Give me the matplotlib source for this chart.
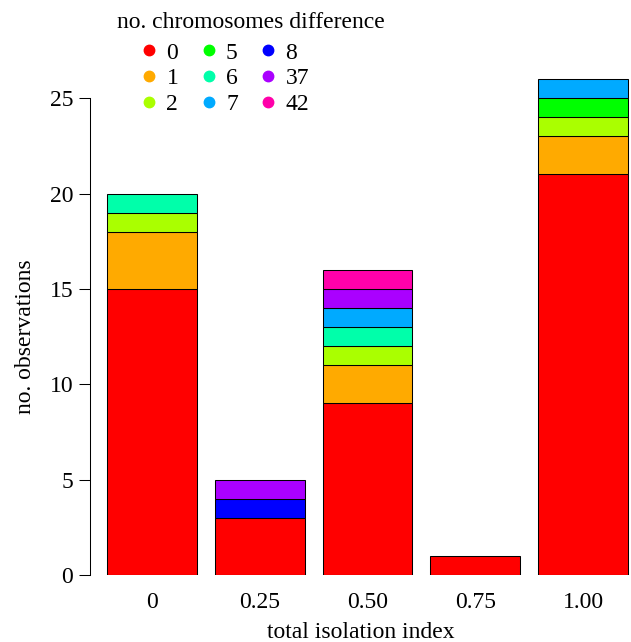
import numpy as np
import matplotlib.pyplot as plt
from matplotlib.lines import Line2D

plt.rcParams['font.family'] = ['Liberation Serif', 'DejaVu Serif']

# isolation index bins and stacked counts per chromosome difference
bins = ['0', '0.25', '0.50', '0.75', '1.00']
diffs = ['0', '1', '2', '5', '6', '7', '8', '37', '42']
counts_0 = [15, 3, 9, 1, 21]
counts_1 = [3, 0, 2, 0, 2]
counts_2 = [1, 0, 1, 0, 1]
counts_5 = [0, 0, 0, 0, 1]
counts_6 = [1, 0, 1, 0, 0]
counts_7 = [0, 0, 1, 0, 1]
counts_8 = [0, 1, 0, 0, 0]
counts_37 = [0, 1, 1, 0, 0]
counts_42 = [0, 0, 1, 0, 0]
colors = ['#FF0000', '#FFAA00', '#AAFF00', '#00FF00', '#00FFAA',
          '#00AAFF', '#0000FF', '#AA00FF', '#FF00AA']

counts = [counts_0, counts_1, counts_2, counts_5, counts_6,
          counts_7, counts_8, counts_37, counts_42]

fs = 17

fig = plt.figure(figsize=(6.31, 6.42), dpi=100)
ax = fig.add_axes([90 / 631, 67 / 642, 541 / 631, 515 / 642])

x = np.arange(len(bins))
width = 1 / 1.2
bottom = np.zeros(len(bins))
for vals, col in zip(counts, colors):
    vals = np.array(vals, dtype=float)
    keep = vals > 0
    ax.bar(x[keep], vals[keep], width=width, bottom=bottom[keep], color=col,
           edgecolor='black', linewidth=0.75)
    bottom += vals

ax.set_xlim(-0.575, 4.445)
ax.set_ylim(0, 27)
ax.set_xticks(x)
ax.set_xticklabels(bins, fontsize=fs)
ax.tick_params(axis='x', length=0, pad=12)
ax.set_yticks([0, 5, 10, 15, 20, 25])
ax.tick_params(axis='y', labelsize=fs, length=8, width=0.75, pad=4)
for s in ['top', 'right', 'bottom']:
    ax.spines[s].set_visible(False)
ax.spines['left'].set_bounds(0, 25)
ax.spines['left'].set_linewidth(0.75)

ax.set_xlabel('total isolation index', fontsize=fs, labelpad=7)
ax.set_ylabel('no. observations', fontsize=fs, va='center')
ax.yaxis.set_label_coords(-64 / 541, 12.5 / 27)

# legend
fig.text(117 / 631, 1 - 28 / 642, 'no. chromosomes difference', fontsize=fs,
         ha='left', va='baseline')
handles = [Line2D([], [], marker='o', linestyle='none', color=c, markersize=7.5)
           for c in colors]
fig.legend(handles, diffs, ncol=3, frameon=False, fontsize=fs,
           loc='upper left', bbox_to_anchor=(140 / 631, 1 - 42 / 642),
           handlelength=0.8, handletextpad=0.32, columnspacing=0.9,
           labelspacing=0.18, borderpad=0, borderaxespad=0)

fig.savefig('out.png', dpi=100)
